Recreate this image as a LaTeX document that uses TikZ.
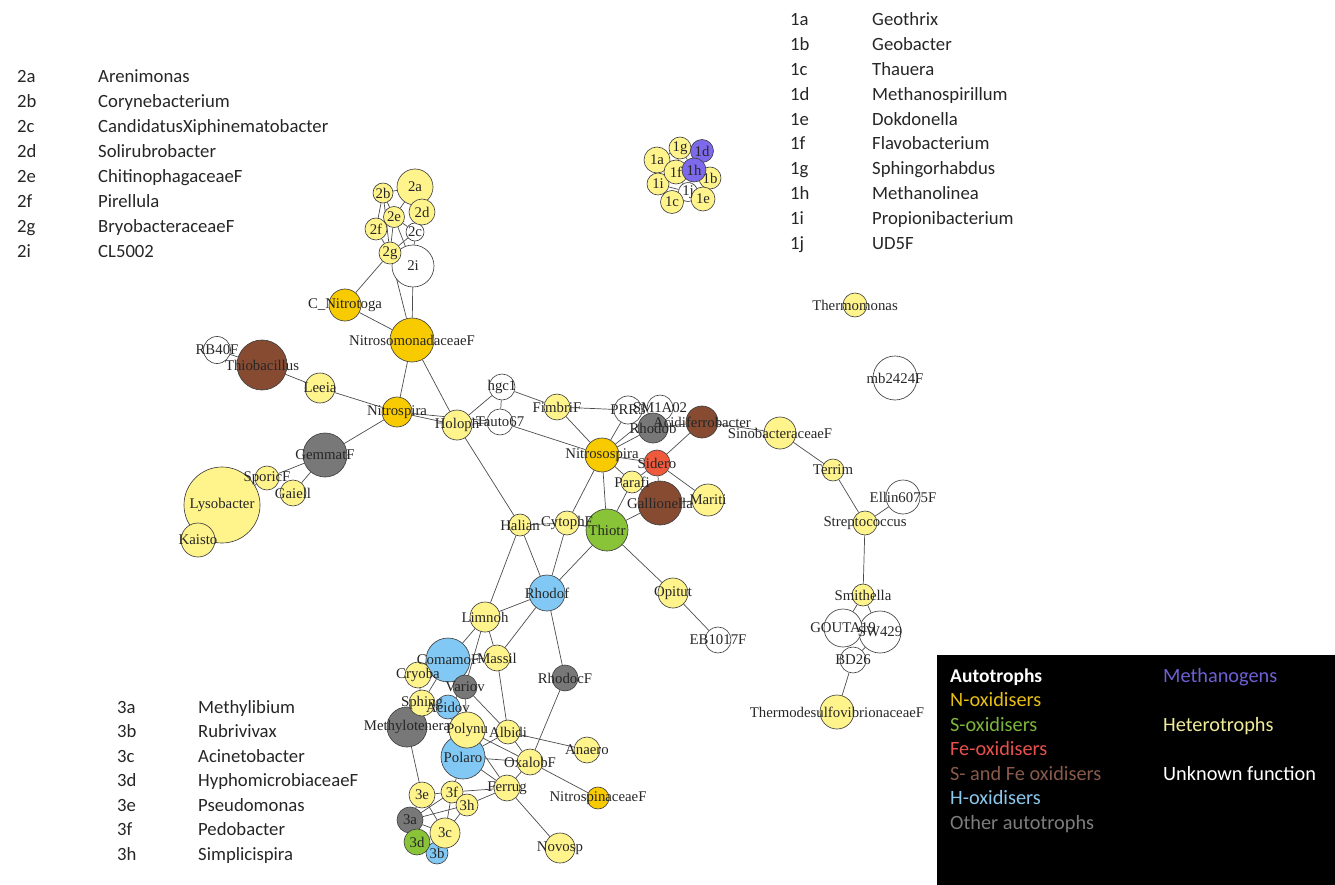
\documentclass[tikz,border=0pt]{standalone}
\usepackage{fontspec}
\setmainfont{Liberation Serif}
\newfontfamily\calib{Carlito}
\usepackage{tikz}
\pgfdeclarelayer{edges}
\pgfsetlayers{edges,main}
\definecolor{noxc}{RGB}{248,202,0}
\definecolor{hetc}{RGB}{255,244,140}
\definecolor{soxc}{RGB}{137,196,56}
\definecolor{feoxc}{RGB}{240,90,60}
\definecolor{sfec}{RGB}{135,75,50}
\definecolor{hoxc}{RGB}{130,200,245}
\definecolor{othc}{RGB}{120,120,120}
\definecolor{methc}{RGB}{125,105,235}
\tikzset{
  vx/.style={circle, draw=black!75, line width=0.65pt, inner sep=0pt},
  sz/.style={minimum size=#1pt},
  nox/.style={vx, fill=noxc},
  het/.style={vx, fill=hetc},
  sox/.style={vx, fill=soxc},
  feox/.style={vx, fill=feoxc},
  sfe/.style={vx, fill=sfec},
  hox/.style={vx, fill=hoxc},
  oth/.style={vx, fill=othc},
  meth/.style={vx, fill=methc},
  unk/.style={vx, fill=white},
  edge/.style={draw=black!70, line width=0.7pt},
  lbl/.style={inner sep=0pt, text=black!85, font=\fontsize{14.8}{16}\selectfont},
  listtxt/.style={inner sep=0pt, anchor=base west, text=black!85, font=\calib\fontsize{18.7}{22}\selectfont},
  legtxt/.style={inner sep=0pt, anchor=base west, font=\calib\fontsize{20.3}{22}\selectfont}
}
\begin{document}
\begin{tikzpicture}[x=1pt,y=-1pt]
\useasboundingbox (0,0) rectangle (1335,885);

%%%%% VERTICES %%%%%
% cluster 1
\node[unk,sz=19] (n1j) at (688,192) {};
\node[het,sz=26] (n1a) at (657,160) {};
\node[het,sz=22] (n1g) at (680,148) {};
\node[meth,sz=23] (n1d) at (702,151) {};
\node[het,sz=22] (n1b) at (710,178) {};
\node[het,sz=22] (n1i) at (658,184) {};
\node[het,sz=24] (n1f) at (676,172) {};
\node[meth,sz=24] (n1h) at (694,170) {};
\node[het,sz=23] (n1c) at (672,202) {};
\node[het,sz=24] (n1e) at (703,199) {};

% cluster 2
\node[unk,sz=18] (n2c) at (415,232) {};
\node[unk,sz=42] (n2i) at (413,266) {};
\node[het,sz=36] (n2a) at (415,187) {};
\node[het,sz=20] (n2b) at (383,193) {};
\node[het,sz=26] (n2d) at (422,212) {};
\node[het,sz=22] (n2f) at (376,229) {};
\node[het,sz=21] (n2e) at (394,217) {};
\node[het,sz=22] (n2g) at (390,253) {};
\node[nox,sz=32] (Nitrotoga) at (345,305) {};
\node[nox,sz=44] (NitrosomonF) at (412,340) {};

% left
\node[unk,sz=27] (RB40F) at (217,350) {};
\node[sfe,sz=50] (Thiobac) at (262,365) {};
\node[het,sz=30] (Leeia) at (320,388) {};
\node[nox,sz=30] (Nitrospira) at (397,412) {};
\node[het,sz=30] (Holoph) at (457,425) {};
\node[oth,sz=44] (GemmatF) at (325,455) {};
\node[het,sz=76] (Lysobacter) at (222,505) {};
\node[het,sz=34] (Kaisto) at (198,540) {};
\node[het,sz=24] (SporicF) at (267,478) {};
\node[het,sz=26] (Gaiell) at (293,493) {};

% centre
\node[unk,sz=26] (hgc1) at (502,387) {};
\node[unk,sz=26] (Tauto67) at (500,422) {};
\node[het,sz=26] (FimbriF) at (557,407) {};
\node[unk,sz=28] (PRR3) at (628,410) {};
\node[unk,sz=26] (SM1A02) at (660,408) {};
\node[oth,sz=30] (Rhodob) at (653,428) {};
\node[sfe,sz=32] (Acidif) at (702,422) {};
\node[het,sz=32] (Sinobac) at (780,433) {};
\node[nox,sz=34] (Nitrosospira) at (602,455) {};
\node[sfe,sz=44] (Gallion) at (660,503) {};
\node[het,sz=22] (Parafi) at (632,482) {};
\node[feox,sz=26] (Sidero) at (657,463) {};
\node[het,sz=32] (Mariti) at (708,500) {};
\node[sox,sz=42] (Thiotr) at (607,530) {};
\node[het,sz=24] (CytophF) at (567,523) {};
\node[het,sz=22] (Halian) at (520,525) {};

% lower
\node[hox,sz=36] (Rhodof) at (547,593) {};
\node[het,sz=30] (Limnoh) at (485,617) {};
\node[hox,sz=44] (ComamoF) at (448,660) {};
\node[het,sz=26] (Massil) at (497,658) {};
\node[het,sz=26] (Cryoba) at (418,675) {};
\node[oth,sz=24] (Variov) at (465,687) {};
\node[oth,sz=40] (Methylot) at (407,727) {};
\node[het,sz=26] (Sphing) at (422,703) {};
\node[hox,sz=24] (Acidov) at (448,707) {};
\node[hox,sz=44] (Polaro) at (463,757) {};
\node[het,sz=36] (Polynu) at (467,730) {};
\node[het,sz=24] (Albidi) at (508,732) {};
\node[oth,sz=26] (RhodocF) at (565,678) {};
\node[het,sz=26] (OxalobF) at (530,762) {};
\node[het,sz=26] (Anaero) at (587,750) {};
\node[het,sz=26] (Ferrug) at (507,788) {};
\node[nox,sz=22] (NitrospinF) at (598,798) {};
\node[het,sz=30] (Novosp) at (560,848) {};
\node[hox,sz=22] (n3b) at (437,853) {};
\node[het,sz=26] (n3e) at (422,795) {};
\node[het,sz=22] (n3f) at (452,792) {};
\node[het,sz=22] (n3h) at (467,805) {};
\node[oth,sz=26] (n3a) at (410,820) {};
\node[het,sz=30] (n3c) at (445,833) {};
\node[sox,sz=26] (n3d) at (417,842) {};
\node[het,sz=30] (Opitut) at (673,593) {};
\node[unk,sz=26] (EB1017F) at (718,640) {};

% right
\node[het,sz=24] (Thermom) at (855,305) {};
\node[unk,sz=44] (mb2424F) at (895,378) {};
\node[het,sz=22] (Terrim) at (833,470) {};
\node[unk,sz=34] (Ellin) at (903,497) {};
\node[het,sz=24] (Strepto) at (865,523) {};
\node[het,sz=22] (Smithella) at (863,595) {};
\node[unk,sz=42] (SW429) at (880,632) {};
\node[unk,sz=38] (GOUTA19) at (843,628) {};
\node[unk,sz=26] (BD26) at (853,660) {};
\node[het,sz=34] (Thermodes) at (837,712) {};

%%%%% EDGES %%%%%
\begin{pgfonlayer}{edges}
\foreach \a/\b in {n1a/n1f, n1a/n1g, n1g/n1f, n1g/n1h, n1d/n1h, n1f/n1h, n1h/n1b,
    n1f/n1i, n1f/n1j, n1h/n1j, n1i/n1j, n1c/n1j, n1e/n1j, n1b/n1e, n1c/n1e,
    n2a/n2b, n2a/n2e, n2a/n2d, n2b/n2e, n2b/n2f, n2b/n2g, n2e/n2f, n2e/n2g,
    n2e/n2c, n2e/n2i, n2f/n2g, n2g/n2c, n2g/n2i, n2d/n2c, n2c/n2i,
    n2g/Nitrotoga, n2g/NitrosomonF, n2i/NitrosomonF, Nitrotoga/NitrosomonF,
    RB40F/Thiobac, Thiobac/Leeia, Leeia/Nitrospira, NitrosomonF/Nitrospira,
    NitrosomonF/Holoph, Nitrospira/Holoph, Nitrospira/Tauto67, Nitrospira/GemmatF,
    GemmatF/SporicF, GemmatF/Gaiell, SporicF/Lysobacter, Lysobacter/Kaisto}
  \draw[edge] (\a) -- (\b);
\foreach \a/\b in {Holoph/hgc1, Holoph/Tauto67, Holoph/Halian, hgc1/Tauto67, hgc1/FimbriF,
    Tauto67/Nitrosospira, FimbriF/PRR3, FimbriF/Nitrosospira, Nitrosospira/PRR3,
    Nitrosospira/SM1A02, Nitrosospira/Rhodob, Nitrosospira/Sidero, Nitrosospira/Parafi,
    Nitrosospira/Thiotr, Nitrosospira/CytophF, Rhodob/Acidif, Acidif/Sidero,
    Acidif/Sinobac, Sidero/Mariti, Sidero/Gallion, Sidero/Parafi, Parafi/Gallion,
    Gallion/Mariti, Thiotr/Gallion, Thiotr/Parafi, Halian/CytophF, CytophF/Thiotr,
    Thiotr/Opitut, Opitut/EB1017F}
  \draw[edge] (\a) -- (\b);
\foreach \a/\b in {Halian/Limnoh, Halian/Rhodof, CytophF/Rhodof, Thiotr/Rhodof,
    Rhodof/Limnoh, Rhodof/Massil, Rhodof/RhodocF, RhodocF/OxalobF, Limnoh/ComamoF,
    Limnoh/Massil, Limnoh/Variov, Massil/Albidi, Massil/ComamoF, ComamoF/Cryoba,
    ComamoF/Variov, ComamoF/Sphing, Variov/Acidov, Variov/Polynu, Variov/Albidi,
    Cryoba/Sphing, Sphing/Acidov, Sphing/Methylot, Acidov/Polynu, Acidov/Polaro,
    Polynu/Polaro, Polynu/OxalobF, Polynu/Ferrug, Albidi/Anaero, Albidi/OxalobF,
    Albidi/Polaro, Polaro/OxalobF, Polaro/Ferrug, Polaro/n3f, Methylot/n3e,
    OxalobF/NitrospinF, OxalobF/Ferrug, Ferrug/Novosp, Ferrug/n3f, Ferrug/n3h,
    n3e/n3f, n3e/n3a, n3e/n3c, n3f/n3h, n3f/n3c, n3h/n3c, n3a/n3c, n3a/n3d,
    n3d/n3c, n3d/n3b, n3c/n3b, n3h/n3a, n3f/n3a}
  \draw[edge] (\a) -- (\b);
\foreach \a/\b in {Sinobac/Terrim, Terrim/Strepto, Strepto/Ellin, Strepto/Smithella,
    Smithella/GOUTA19, Smithella/SW429, GOUTA19/SW429, GOUTA19/BD26, SW429/BD26,
    BD26/Thermodes}
  \draw[edge] (\a) -- (\b);
\end{pgfonlayer}

%%%%% LABELS %%%%%
\foreach \v/\t in {n1a/1a, n1b/1b, n1c/1c, n1d/1d, n1e/1e, n1f/1f, n1g/1g, n1h/1h, n1i/1i, n1j/1j,
    n2a/2a, n2b/2b, n2c/2c, n2d/2d, n2e/2e, n2f/2f, n2g/2g, n2i/2i,
    Nitrotoga/C\_Nitrotoga, NitrosomonF/NitrosomonadaceaeF, RB40F/RB40F,
    Thiobac/Thiobacillus, Leeia/Leeia, Nitrospira/Nitrospira, Holoph/Holoph,
    GemmatF/GemmatF, SporicF/SporicF, Gaiell/Gaiell, Lysobacter/Lysobacter, Kaisto/Kaisto,
    hgc1/hgc1, Tauto67/Tauto67, FimbriF/FimbriF, PRR3/PRR3, SM1A02/SM1A02, Rhodob/Rhodob,
    Acidif/Acidiferrobacter, Sinobac/SinobacteraceaeF, Nitrosospira/Nitrosospira,
    Sidero/Sidero, Parafi/Parafi, Gallion/Gallionella, Mariti/Mariti, Thiotr/Thiotr,
    CytophF/CytophF, Halian/Halian}
  \node[lbl] (t\v) at (\v) {\t};
\foreach \v/\t in {Rhodof/Rhodof, Limnoh/Limnoh, ComamoF/ComamoF, Massil/Massil,
    Cryoba/Cryoba, Variov/Variov, Sphing/Sphing, Acidov/Acidov, Methylot/Methylotenera,
    Polynu/Polynu, Albidi/Albidi, RhodocF/RhodocF, Polaro/Polaro, OxalobF/OxalobF,
    Anaero/Anaero, Ferrug/Ferrug, NitrospinF/NitrospinaceaeF, Novosp/Novosp,
    n3a/3a, n3b/3b, n3c/3c, n3d/3d, n3e/3e, n3f/3f, n3h/3h,
    Opitut/Opitut, EB1017F/EB1017F, Thermom/Thermomonas, mb2424F/mb2424F,
    Terrim/Terrim, Ellin/Ellin6075F, Strepto/Streptococcus, Smithella/Smithella,
    GOUTA19/GOUTA19, SW429/SW429, BD26/BD26, Thermodes/ThermodesulfovibrionaceaeF}
  \node[lbl] (t\v) at (\v) {\t};

%%%%% KEY LISTS %%%%%
\foreach \c/\t [count=\i from 0] in {2a/Arenimonas, 2b/Corynebacterium,
    2c/CandidatusXiphinematobacter, 2d/Solirubrobacter, 2e/ChitinophagaceaeF,
    2f/Pirellula, 2g/BryobacteraceaeF, 2i/CL5002} {
  \node[listtxt] (k\c) at (17,83+24.86*\i) {\c};
  \node[listtxt] (m\c) at (98,83+24.86*\i) {\t};
}
\foreach \c/\t [count=\i from 0] in {1a/Geothrix, 1b/Geobacter, 1c/Thauera,
    1d/Methanospirillum, 1e/Dokdonella, 1f/Flavobacterium, 1g/Sphingorhabdus,
    1h/Methanolinea, 1i/Propionibacterium, 1j/UD5F} {
  \node[listtxt] (k\c) at (790,26+24.8*\i) {\c};
  \node[listtxt] (m\c) at (872,26+24.8*\i) {\t};
}
\foreach \c/\t [count=\i from 0] in {3a/Methylibium, 3b/Rubrivivax, 3c/Acinetobacter,
    3d/HyphomicrobiaceaeF, 3e/Pseudomonas, 3f/Pedobacter, 3h/Simplicispira} {
  \node[listtxt] (k\c) at (117,713+24.5*\i) {\c};
  \node[listtxt] (m\c) at (198,713+24.5*\i) {\t};
}

%%%%% COLOUR KEY %%%%%
\fill[black] (937,655) rectangle (1335,885);
\node[legtxt, text=white, font=\calib\bfseries\fontsize{19.5}{22}\selectfont] (kAuto) at (950,682) {Autotrophs};
\node[legtxt, text={rgb,255:red,230;green,190;blue,20}] (kN) at (950,706.5) {N-oxidisers};
\node[legtxt, text={rgb,255:red,125;green,180;blue,60}] (kS) at (950,731) {S-oxidisers};
\node[legtxt, text={rgb,255:red,232;green,80;blue,75}] (kFe) at (950,755.5) {Fe-oxidisers};
\node[legtxt, text={rgb,255:red,135;green,90;blue,75}] (kSFe) at (950,780) {S- and Fe oxidisers};
\node[legtxt, text={rgb,255:red,140;green,200;blue,235}] (kH) at (950,804.5) {H-oxidisers};
\node[legtxt, text={rgb,255:red,125;green,125;blue,125}] (kOth) at (950,829) {Other autotrophs};
\node[legtxt, text={rgb,255:red,110;green,95;blue,210}] (kMeth) at (1163,682) {Methanogens};
\node[legtxt, text={rgb,255:red,240;green,235;blue,155}] (kHet) at (1163,731) {Heterotrophs};
\node[legtxt, text=white] (kUnk) at (1163,780) {Unknown function};
\end{tikzpicture}
\end{document}
